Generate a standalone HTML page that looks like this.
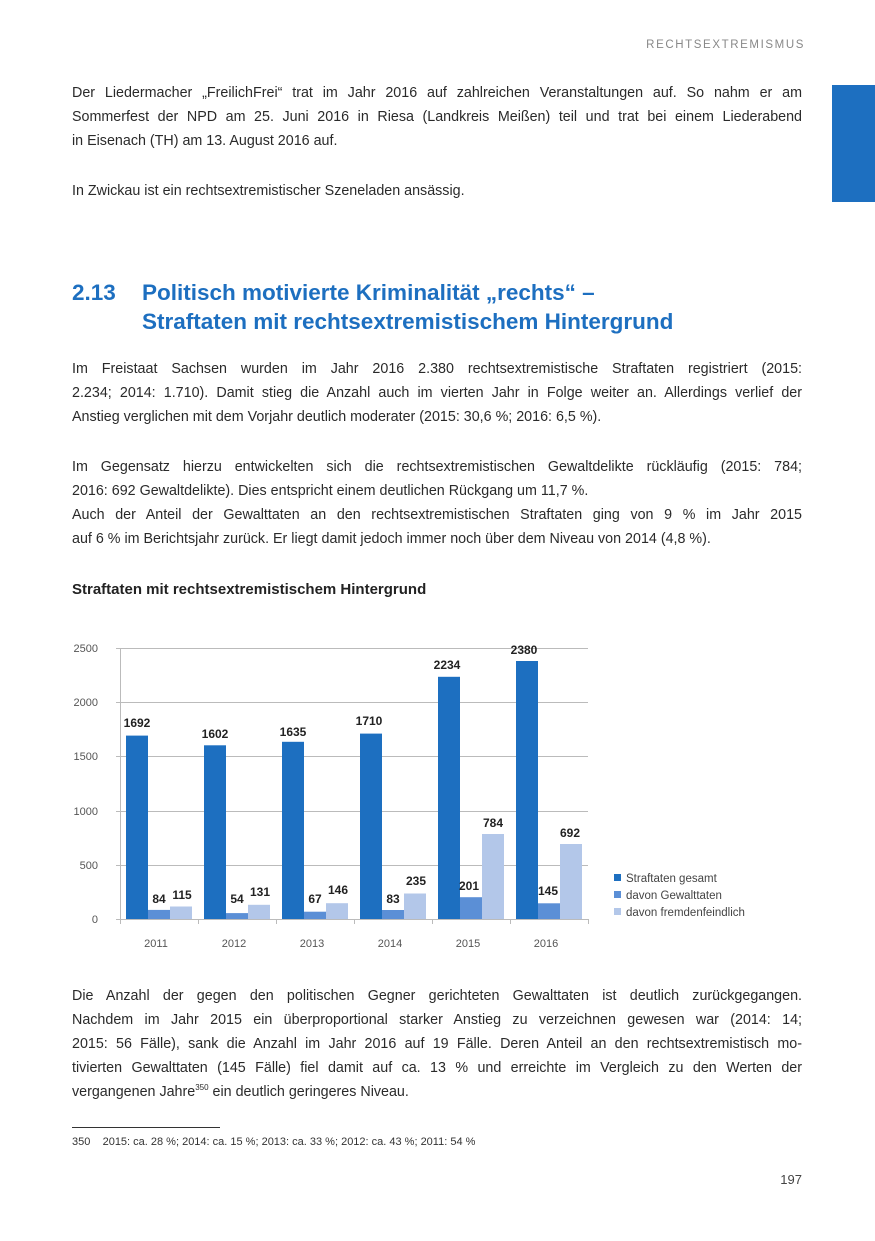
<!DOCTYPE html>
<html><head><meta charset="utf-8"><style>
body{margin:0;width:875px;height:1241px;background:#fff;position:relative;font-family:"Liberation Sans",sans-serif;color:#2a2a2a;overflow:hidden}
.p{position:absolute;left:72px;width:730px;font-size:14.3px;line-height:24px}
.p div{text-align:justify;text-align-last:justify;height:24px}
.p div.e{text-align-last:left}
.hd{position:absolute;right:70px;top:39px;font-size:11.5px;letter-spacing:1.6px;color:#888}
.tab{position:absolute;left:832px;top:85px;width:43px;height:117px;background:#1d6fc0}
h2{position:absolute;left:72px;top:278px;margin:0;font-size:22.5px;line-height:29px;color:#1d6fc0;font-weight:bold;font-family:"Liberation Sans",sans-serif}
</style></head><body>
<div class="hd">RECHTSEXTREMISMUS</div>
<div class="tab"></div>
<div class="p" style="top:81px"><div>Der Liedermacher „FreilichFrei“ trat im Jahr 2016 auf zahlreichen Veranstaltungen auf. So nahm er am</div><div>Sommerfest der NPD am 25. Juni 2016 in Riesa (Landkreis Meißen) teil und trat bei einem Liederabend</div><div class="e">in Eisenach (TH) am 13. August 2016 auf.</div></div>
<div class="p" style="top:179px"><div class="e">In Zwickau ist ein rechtsextremistischer Szeneladen ansässig.</div></div>
<h2><span style="display:inline-block;width:70px">2.13</span>Politisch motivierte Kriminalität „rechts“ –<br><span style="display:inline-block;width:70px"></span>Straftaten mit rechtsextremistischem Hintergrund</h2>
<div class="p" style="top:357px"><div>Im Freistaat Sachsen wurden im Jahr 2016 2.380 rechtsextremistische Straftaten registriert (2015:</div><div>2.234; 2014: 1.710). Damit stieg die Anzahl auch im vierten Jahr in Folge weiter an. Allerdings verlief der</div><div class="e">Anstieg verglichen mit dem Vorjahr deutlich moderater (2015: 30,6 %; 2016: 6,5 %).</div></div>
<div class="p" style="top:455px"><div>Im Gegensatz hierzu entwickelten sich die rechtsextremistischen Gewaltdelikte rückläufig (2015: 784;</div><div class="e">2016: 692 Gewaltdelikte). Dies entspricht einem deutlichen Rückgang um 11,7 %.</div><div>Auch der Anteil der Gewalttaten an den rechtsextremistischen Straftaten ging von 9 % im Jahr 2015</div><div class="e">auf 6 % im Berichtsjahr zurück. Er liegt damit jedoch immer noch über dem Niveau von 2014 (4,8 %).</div></div>
<div style="position:absolute;left:72px;top:581px;font-size:15px;font-weight:bold;color:#222">Straftaten mit rechtsextremistischem Hintergrund</div>
<svg style="position:absolute;left:0;top:0" width="875" height="1241" font-family="Liberation Sans, sans-serif">
<g stroke="#bbb" stroke-width="1">
<line x1="116" x2="588" y1="648.5" y2="648.5"/><line x1="116" x2="588" y1="702.5" y2="702.5"/><line x1="116" x2="588" y1="756.5" y2="756.5"/><line x1="116" x2="588" y1="811.5" y2="811.5"/><line x1="116" x2="588" y1="865.5" y2="865.5"/><line x1="116" x2="588" y1="919.5" y2="919.5"/>
<line x1="120.5" x2="120.5" y1="648" y2="919"/>
<line x1="120.5" x2="120.5" y1="919" y2="924"/><line x1="198.5" x2="198.5" y1="919" y2="924"/><line x1="276.5" x2="276.5" y1="919" y2="924"/><line x1="354.5" x2="354.5" y1="919" y2="924"/><line x1="432.5" x2="432.5" y1="919" y2="924"/><line x1="510.5" x2="510.5" y1="919" y2="924"/><line x1="588.5" x2="588.5" y1="919" y2="924"/>
</g>
<g font-size="11" fill="#555" text-anchor="end"><text x="98" y="652">2500</text><text x="98" y="706">2000</text><text x="98" y="760">1500</text><text x="98" y="815">1000</text><text x="98" y="869">500</text><text x="98" y="923">0</text></g>
<g font-size="11" fill="#555" text-anchor="middle"><text x="156" y="947">2011</text><text x="234" y="947">2012</text><text x="312" y="947">2013</text><text x="390" y="947">2014</text><text x="468" y="947">2015</text><text x="546" y="947">2016</text></g>
<rect x="614" y="874" width="7" height="7" fill="#1d6fc0"/><rect x="614" y="891" width="7" height="7" fill="#5b8fd6"/><rect x="614" y="908" width="7" height="7" fill="#b3c7e9"/>
<g font-size="11.5" fill="#444"><text x="626" y="882">Straftaten gesamt</text><text x="626" y="899">davon Gewalttaten</text><text x="626" y="916">davon fremdenfeindlich</text></g>
<g fill="#1d6fc0"><rect x="126" y="735.6" width="22" height="183.4"/><rect x="204" y="745.3" width="22" height="173.7"/><rect x="282" y="741.8" width="22" height="177.2"/><rect x="360" y="733.6" width="22" height="185.4"/><rect x="438" y="676.8" width="22" height="242.2"/><rect x="516" y="661" width="22" height="258"/></g>
<g fill="#5b8fd6"><rect x="148" y="909.9" width="22" height="9.1"/><rect x="226" y="913.1" width="22" height="5.9"/><rect x="304" y="911.7" width="22" height="7.3"/><rect x="382" y="910" width="22" height="9"/><rect x="460" y="897.2" width="22" height="21.8"/><rect x="538" y="903.3" width="22" height="15.7"/></g>
<g fill="#b3c7e9"><rect x="170" y="906.5" width="22" height="12.5"/><rect x="248" y="904.8" width="22" height="14.2"/><rect x="326" y="903.2" width="22" height="15.8"/><rect x="404" y="893.5" width="22" height="25.5"/><rect x="482" y="834" width="22" height="85"/><rect x="560" y="844" width="22" height="75"/></g>
<g font-size="12" font-weight="bold" fill="#222" text-anchor="middle">
<text x="137" y="727">1692</text><text x="215" y="738">1602</text><text x="293" y="736">1635</text><text x="369" y="725">1710</text><text x="447" y="669">2234</text><text x="524" y="654">2380</text>
<text x="159" y="903">84</text><text x="237" y="903">54</text><text x="315" y="903">67</text><text x="393" y="903">83</text><text x="469" y="890">201</text><text x="548" y="895">145</text>
<text x="182" y="899">115</text><text x="260" y="896">131</text><text x="338" y="894">146</text><text x="416" y="885">235</text><text x="493" y="827">784</text><text x="570" y="837">692</text>
</g>
</svg>
<div class="p" style="top:984px"><div>Die Anzahl der gegen den politischen Gegner gerichteten Gewalttaten ist deutlich zurückgegangen.</div><div>Nachdem im Jahr 2015 ein überproportional starker Anstieg zu verzeichnen gewesen war (2014: 14;</div><div>2015: 56 Fälle), sank die Anzahl im Jahr 2016 auf 19 Fälle. Deren Anteil an den rechtsextremistisch mo-</div><div>tivierten Gewalttaten (145 Fälle) fiel damit auf ca. 13 % und erreichte im Vergleich zu den Werten der</div><div class="e">vergangenen Jahre<sup style="font-size:8px;line-height:0">350</sup> ein deutlich geringeres Niveau.</div></div>
<div style="position:absolute;left:72px;top:1127px;width:148px;border-top:1px solid #333"></div>
<div style="position:absolute;left:72px;top:1136px;font-size:11px;color:#333">350&nbsp;&nbsp;&nbsp;&nbsp;2015: ca. 28 %; 2014: ca. 15 %; 2013: ca. 33 %; 2012: ca. 43 %; 2011: 54 %</div>
<div style="position:absolute;right:73px;top:1172px;font-size:13px;color:#444">197</div>
</body></html>
